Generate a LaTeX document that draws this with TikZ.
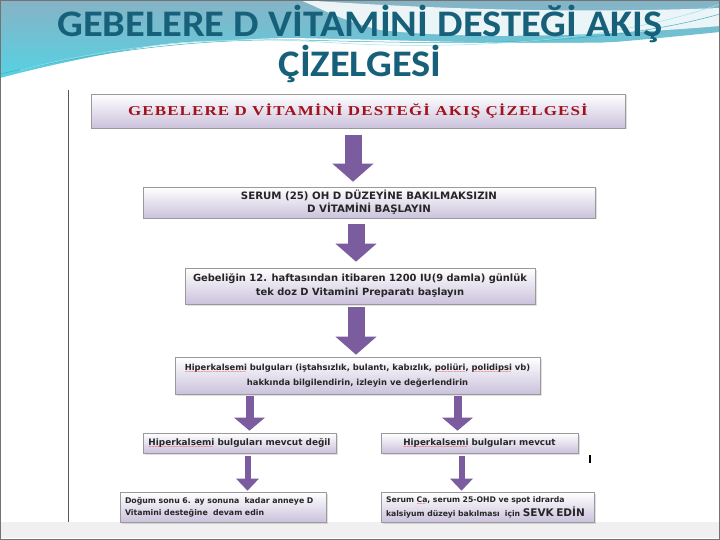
\documentclass[tikz,border=0pt]{standalone}
\usepackage{fontspec}
\setmainfont{DejaVu Sans}
\newfontfamily\titlefont[FakeStretch=1.08]{Carlito}
\newfontfamily\serifbf[FakeStretch=1.25,LetterSpace=8]{Liberation Serif}
\newfontfamily\wavefont{DejaVu Sans}
\usetikzlibrary{arrows.meta,shadows}
\definecolor{titleteal}{HTML}{17607A}
\definecolor{boxred}{HTML}{A0121C}
\definecolor{lav}{HTML}{CBC2DC}
\definecolor{boxedge}{HTML}{9A9A9A}
\definecolor{arrowpurple}{HTML}{7B5C9E}
\definecolor{bandtop}{HTML}{86B3C6}
\definecolor{bandbot}{HTML}{55D2E2}
\newsavebox\sqbox
\newcommand\sqw[1]{\sbox\sqbox{#1}\rlap{\raisebox{-3.4pt}[0pt][0pt]{\hbox to \wd\sqbox{\color{red}\leaders\hbox{\wavefont\mdseries\fontsize{4}{4}\selectfont\char126\kern-0.3pt}\hfill}}}\usebox\sqbox}
\tikzset{
  flowbox/.style={draw=boxedge, line width=0.6pt, top color=white, bottom color=lav,
     drop shadow={opacity=0.25, shadow xshift=1.5pt, shadow yshift=-1.5pt},
     inner sep=0pt, align=center, font=\fontsize{10.2}{13}\selectfont\bfseries, text=black!85},
  bigarrow/.style={draw=arrowpurple, line width=17pt, -{Triangle[width=40pt,length=18pt]}},
  midarrow/.style={draw=arrowpurple, line width=8pt, -{Triangle[width=30pt,length=13pt]}},
  smallarrow/.style={draw=arrowpurple, line width=6pt, -{Triangle[width=22pt,length=12pt]}},
}
\begin{document}
\begin{tikzpicture}[x=1pt,y=-1pt]
\useasboundingbox (0,0) rectangle (720,540);
% background
\fill[white] (0,0) rectangle (720,540);
\shade[top color=bandtop, bottom color=bandbot]
  (0,0) -- (720,0) -- (720,32) .. controls (620,42) and (520,52) .. (420,50)
  .. controls (330,48) and (220,32) .. (140,48) .. controls (80,58) and (30,70) .. (0,78) -- cycle;
\fill[white, opacity=0.85]
  (300,0) .. controls (420,8) and (560,14) .. (720,8) -- (720,26)
  .. controls (600,36) and (470,40) .. (380,30) .. controls (340,20) and (320,8) .. (300,0) -- cycle;
\fill[white]
  (0,86) .. controls (60,62) and (160,40) .. (290,38) .. controls (420,40) and (560,48) .. (720,38)
  -- (720,540) -- (0,540) -- cycle;
\draw[bandbot!70!titleteal, line width=0.5pt] (0,74) .. controls (80,56) and (180,38) .. (300,40)
  .. controls (450,44) and (600,48) .. (720,14);
\draw[bandbot!60!white, line width=0.5pt] (20,70) .. controls (100,50) and (200,34) .. (320,42)
  .. controls (470,52) and (620,40) .. (720,4);
% title
\node[font=\titlefont\bfseries\fontsize{37.5}{40}\selectfont, text=titleteal] (t1) at (360,24) {GEBELERE D VİTAMİNİ DESTEĞİ AKIŞ};
\node[font=\titlefont\bfseries\fontsize{37.5}{40}\selectfont, text=titleteal] (t2) at (360,64) {ÇİZELGESİ};
% embedded picture frame
\fill[black!6] (1,522) rectangle (719,538);
\draw[black!65, line width=1.4pt] (68.5,90) -- (68.5,522);
\draw[black!55, line width=0.8pt] (0.4,0.4) rectangle (719.6,539.6);
% boxes
\node[flowbox, minimum width=534pt, minimum height=34pt, font=\serifbf\bfseries\fontsize{13.6}{14}\selectfont, text=boxred] (b1) at (358,111)
  {GEBELERE D VİTAMİNİ DESTEĞİ AKIŞ ÇİZELGESİ};
\node[flowbox, minimum width=452pt, minimum height=31pt] (b2) at (369,202.5)
  {SERUM (25) OH D DÜZEYİNE BAKILMAKSIZIN\\D VİTAMİNİ BAŞLAYIN};
\node[flowbox, minimum width=350pt, minimum height=36pt, font=\fontsize{9.9}{14}\selectfont\bfseries] (b3) at (360,286)
  {Gebeliğin 12. haftasından itibaren 1200 IU(9 damla) günlük\\tek doz D Vitamini Preparatı başlayın};
\node[flowbox, minimum width=365pt, minimum height=37pt, font=\fontsize{8.4}{15}\selectfont\bfseries] (b4) at (357.5,375.5)
  {\sqw{Hiperkalsemi} bulguları (iştahsızlık, bulantı, kabızlık, \sqw{poliüri}, \sqw{polidipsi} vb)\\hakkında bilgilendirin, izleyin ve değerlendirin};
\node[flowbox, minimum width=193pt, minimum height=20pt, font=\fontsize{8.9}{9}\selectfont\bfseries] (b5l) at (239.5,443)
  {\sqw{Hiperkalsemi} bulguları mevcut değil};
\node[flowbox, minimum width=197pt, minimum height=20pt, font=\fontsize{8.8}{9}\selectfont\bfseries] (b5r) at (479.5,443)
  {\sqw{Hiperkalsemi} bulguları mevcut};
\node[flowbox, minimum width=206pt, minimum height=30pt, align=left, text width=196pt, font=\fontsize{7.8}{12}\selectfont\bfseries] (b6l) at (223,507)
  {Doğum sonu 6. ay sonuna \ kadar anneye D\\Vitamini desteğine \ devam edin};
\node[flowbox, minimum width=213pt, minimum height=30pt, align=left, text width=203pt, font=\fontsize{7.7}{14}\selectfont\bfseries] (b6r) at (487.5,507)
  {Serum \sqw{Ca}, serum 25-OHD ve spot idrarda\\kalsiyum düzeyi bakılması \ için {\fontsize{10.5}{14}\selectfont SEVK EDİN}};
% connectors
\draw[bigarrow, shorten <=7pt, shorten >=5pt] ([xshift=-5pt]b1.south) -- ([xshift=-5pt]b1.south |- b2.north);
\draw[bigarrow, shorten <=6pt, shorten >=6pt] ([xshift=-13pt]b2.south) -- ([xshift=-13pt]b2.south |- b3.north);
\draw[bigarrow, shorten <=3pt, shorten >=2pt] ([xshift=-4pt]b3.south) -- ([xshift=-4pt]b3.south |- b4.north);
\draw[midarrow, shorten <=2pt, shorten >=2pt] ([xshift=-108pt]b4.south) -- ([xshift=-108pt]b4.south |- b5l.north);
\draw[midarrow, shorten <=2pt, shorten >=2pt] ([xshift=100pt]b4.south) -- ([xshift=100pt]b4.south |- b5r.north);
\draw[smallarrow, shorten <=3pt, shorten >=1pt] ([xshift=8pt]b5l.south) -- ([xshift=8pt]b5l.south |- b6l.north);
\draw[smallarrow, shorten <=3pt, shorten >=1pt] ([xshift=-18pt]b5r.south) -- ([xshift=-18pt]b5r.south |- b6r.north);
% stray mark
\draw[black, line width=2pt] (590,455) -- (590,463);
\end{tikzpicture}
\end{document}
